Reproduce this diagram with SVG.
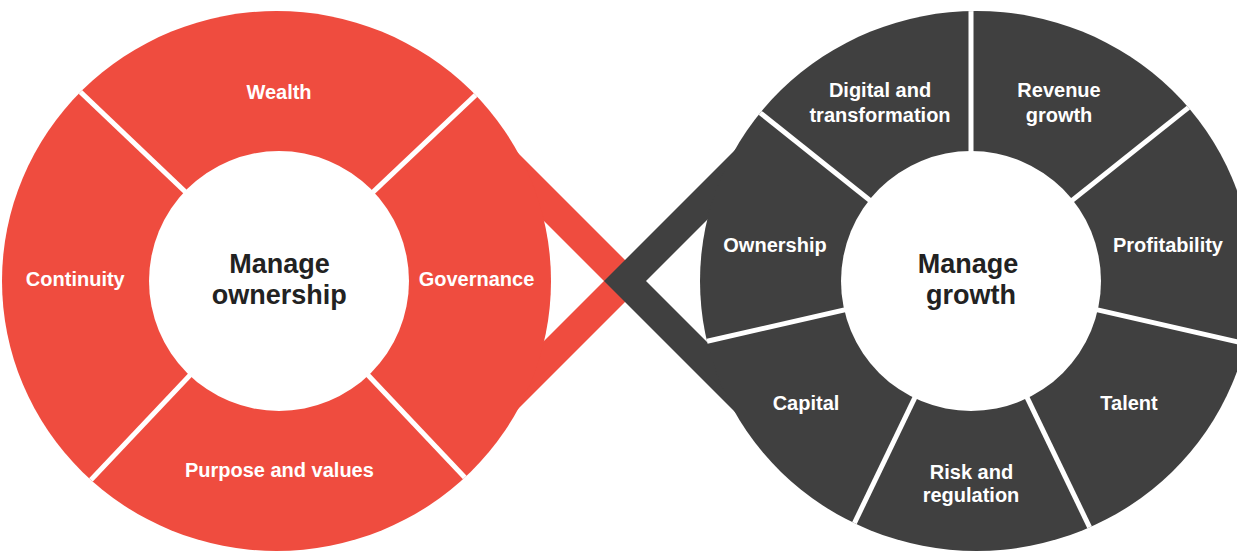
<svg xmlns="http://www.w3.org/2000/svg" width="1237" height="552" viewBox="0 0 1237 552">
<style>
.red{fill:#EF4C3F}
.dark{fill:#404040}
.div{stroke:#fff;stroke-width:5;fill:none}
.lbl{font-family:"Liberation Sans",Arial,Helvetica,sans-serif;font-weight:bold;font-size:20px;fill:#fff;text-anchor:middle}
.ctr{font-family:"Liberation Sans",Arial,Helvetica,sans-serif;font-weight:bold;font-size:27px;fill:#222;text-anchor:middle}
.hub{fill:#fff}
</style>
<defs>
<clipPath id="clipL"><ellipse cx="276.5" cy="281" rx="274.5" ry="270"/></clipPath>
<clipPath id="clipR"><ellipse cx="976.5" cy="281" rx="276.5" ry="270"/></clipPath>
</defs>
<rect width="1237" height="552" fill="#fff"/>
<g id="connectors">
<polygon class="red" points="646,281 500,135 458,135 604,281 458,427 500,427"/>
<polygon class="dark" points="604,281 750,135 792,135 646,281 792,427 750,427"/>
</g>
<g id="ownership-wheel">
<g id="seg-wealth"><path class="red" clip-path="url(#clipL)" d="M279,281 L-10.7,5.2 L279,-119 L569.6,6.2 Z"/><text class="lbl" x="279" y="99">Wealth</text></g>
<g id="seg-governance"><path class="red" clip-path="url(#clipL)" d="M279,281 L569.6,6.2 L679,281 L553.8,571.6 Z"/><text class="lbl" x="476.5" y="286">Governance</text></g>
<g id="seg-purpose"><path class="red" clip-path="url(#clipL)" d="M279,281 L553.8,571.6 L279,681 L4.2,571.6 Z"/><text class="lbl" x="279.4" y="477">Purpose and values</text></g>
<g id="seg-continuity"><path class="red" clip-path="url(#clipL)" d="M279,281 L4.2,571.6 L-121,281 L-10.7,5.2 Z"/><text class="lbl" x="75.3" y="286">Continuity</text></g>
<g id="dividers-left" class="div" clip-path="url(#clipL)">
<line x1="279" y1="281" x2="-10.7" y2="5.2"/>
<line x1="279" y1="281" x2="569.6" y2="6.2"/>
<line x1="279" y1="281" x2="553.8" y2="571.6"/>
<line x1="279" y1="281" x2="4.2" y2="571.6"/>
</g>
<g id="hub-ownership"><circle class="hub" cx="279" cy="281" r="130"/><text class="ctr" x="279.5" y="273">Manage</text><text class="ctr" x="279.2" y="303.5">ownership</text></g>
</g>
<g id="growth-wheel">
<g id="seg-revenue"><path class="dark" clip-path="url(#clipR)" d="M971,281 L971,-139 L1299.4,19.1 Z"/><text class="lbl" x="1059" y="96.5">Revenue</text><text class="lbl" x="1059" y="121.5">growth</text></g>
<g id="seg-profitability"><path class="dark" clip-path="url(#clipR)" d="M971,281 L1299.4,19.1 L1380.5,374.5 Z"/><text class="lbl" x="1168" y="251.5">Profitability</text></g>
<g id="seg-talent"><path class="dark" clip-path="url(#clipR)" d="M971,281 L1380.5,374.5 L1153.2,659.4 Z"/><text class="lbl" x="1129" y="410">Talent</text></g>
<g id="seg-risk"><path class="dark" clip-path="url(#clipR)" d="M971,281 L1153.2,659.4 L788.8,659.4 Z"/><text class="lbl" x="971.5" y="479">Risk and</text><text class="lbl" x="971" y="502">regulation</text></g>
<g id="seg-capital"><path class="dark" clip-path="url(#clipR)" d="M971,281 L788.8,659.4 L561.5,374.5 Z"/><text class="lbl" x="806" y="410">Capital</text></g>
<g id="seg-ownership"><path class="dark" clip-path="url(#clipR)" d="M971,281 L561.5,374.5 L642.6,19.1 Z"/><text class="lbl" x="775" y="251.5">Ownership</text></g>
<g id="seg-digital"><path class="dark" clip-path="url(#clipR)" d="M971,281 L642.6,19.1 L971,-139 Z"/><text class="lbl" x="880" y="96.5">Digital and</text><text class="lbl" x="880" y="121.5">transformation</text></g>
<g id="dividers-right" class="div" clip-path="url(#clipR)">
<line x1="971" y1="281" x2="971" y2="-139"/>
<line x1="971" y1="281" x2="1299.4" y2="19.1"/>
<line x1="971" y1="281" x2="1380.5" y2="374.5"/>
<line x1="971" y1="281" x2="1153.2" y2="659.4"/>
<line x1="971" y1="281" x2="788.8" y2="659.4"/>
<line x1="971" y1="281" x2="561.5" y2="374.5"/>
<line x1="971" y1="281" x2="642.6" y2="19.1"/>
</g>
<g id="hub-growth"><circle class="hub" cx="971" cy="281" r="130"/><text class="ctr" x="968" y="273">Manage</text><text class="ctr" x="971" y="303.5">growth</text></g>
</g>
</svg>
